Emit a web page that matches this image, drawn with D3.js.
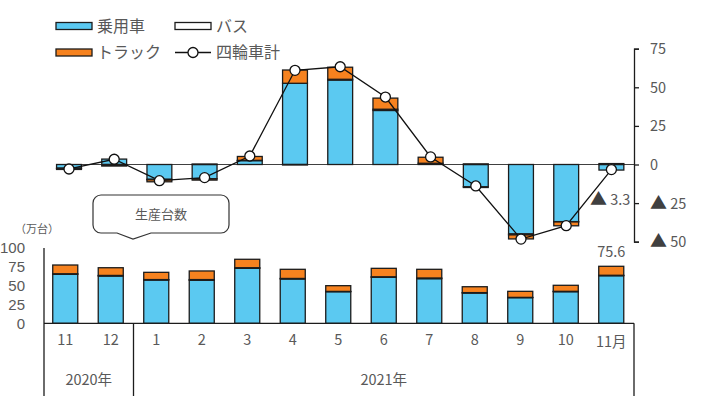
<!DOCTYPE html>
<html>
<head>
<meta charset="utf-8">
<script src="https://cdn.jsdelivr.net/npm/d3@7"></script>
<style>
  body { margin: 0; background: #fff; }
  svg { display: block; }
  text { font-family: "Noto Sans CJK JP", "Noto Sans", sans-serif; fill: #595959; }
</style>
</head>
<body>
<svg id="chart" width="705" height="396"></svg>
<script>
// Months on the category axis (Nov 2020 – Nov 2021)
const months = ["11", "12", "1", "2", "3", "4", "5", "6", "7", "8", "9", "10", "11月"];
const yearGroups = [
  { label: "2020年", first: "11", last: "12" },
  { label: "2021年", first: "1", last: "11月" }
];

// Year-on-year change, contribution by vehicle type (%)
const yoyPassenger = [-2.4, 3.5, -9.6, -9.2, 2.5, 52.6, 54.7, 35.0, 0.8, -14.4, -45.0, -37.0, -3.6];
const yoyBus       = [-0.2, -0.2, -0.3, 0.3, 0.2, -0.3, 0.5, 0.8, 0.0, -0.5, -0.6, -0.2, 0.0];
const yoyTruck     = [-0.6, -0.8, -1.3, -0.9, 2.5, 8.6, 7.8, 7.2, 3.9, 0.4, -2.6, -2.5, 0.6];
// Year-on-year change, all four-wheel vehicles (%)
const yoyTotal     = [-2.9, 3.4, -10.5, -8.5, 5.5, 61.0, 63.3, 43.7, 4.9, -13.9, -48.3, -39.6, -3.3];

// Production volume (10,000 units)
const prodPassenger = [65.0, 62.7, 57.4, 57.0, 72.9, 58.8, 41.9, 61.0, 59.2, 40.2, 34.0, 41.9, 63.1];
const prodBus       = [0.7, 0.8, 0.6, 1.0, 0.8, 0.7, 0.4, 0.7, 0.9, 0.5, 0.4, 0.5, 0.6];
const prodTruck     = [11.6, 10.2, 9.6, 11.4, 11.2, 12.1, 7.6, 11.2, 11.5, 7.8, 8.0, 8.0, 11.9];

const yoyTicks  = [75, 50, 25, 0, -25, -50];
const prodTicks = [100, 75, 50, 25, 0];

const seriesKeys   = ["passenger", "bus", "truck"];
const seriesLabels = ["乗用車", "バス", "トラック"];
const totalLabel   = "四輪車計";
const colors = { passenger: "#5BC9F1", bus: "#FFFFFF", truck: "#F6821F" };
const edge = "#1c1c1c";

const svg = d3.select("#chart");

// ---------- scales ----------
const xTop = d3.scaleBand().domain(months).range([46.4, 634]).paddingInner(0.45).paddingOuter(0.225);
const yTop = d3.scaleLinear().domain([-50, 75]).range([241.7, 48.7]);
const xBot = d3.scaleBand().domain(months).range([42.5, 634]).paddingInner(0.45).paddingOuter(0.225);
const yBot = d3.scaleLinear().domain([0, 100]).range([323.3, 247.9]);

// ---------- upper panel: YoY contributions ----------
const topRows = months.map((m, i) => ({ m, passenger: yoyPassenger[i], bus: yoyBus[i], truck: yoyTruck[i] }));
const topStack = d3.stack().keys(seriesKeys).offset(d3.stackOffsetDiverging)(topRows);

svg.append("line")
  .attr("x1", xTop(months[0])).attr("x2", 634)
  .attr("y1", yTop(0)).attr("y2", yTop(0))
  .attr("stroke", "#404040").attr("stroke-width", 1);

svg.append("g").selectAll("g").data(topStack).join("g")
  .attr("fill", s => colors[s.key])
  .selectAll("rect").data(s => s.filter(d => d[0] !== d[1])).join("rect")
  .attr("x", d => xTop(d.data.m))
  .attr("width", xTop.bandwidth())
  .attr("y", d => yTop(Math.max(d[0], d[1])))
  .attr("height", d => Math.abs(yTop(d[0]) - yTop(d[1])))
  .attr("stroke", edge).attr("stroke-width", 1.3);

const totalLine = d3.line()
  .x((v, i) => xTop(months[i]) + xTop.bandwidth() / 2)
  .y(v => yTop(v));
svg.append("path").datum(yoyTotal)
  .attr("d", totalLine)
  .attr("fill", "none").attr("stroke", "#111").attr("stroke-width", 1.3);
svg.append("g").selectAll("circle").data(yoyTotal).join("circle")
  .attr("cx", (v, i) => xTop(months[i]) + xTop.bandwidth() / 2)
  .attr("cy", v => yTop(v))
  .attr("r", 5)
  .attr("fill", "#fff").attr("stroke", "#111").attr("stroke-width", 1.3);

// Right axis of the upper panel; negatives are written with ▲
const rightAxis = svg.append("g")
  .attr("transform", "translate(634,0)")
  .call(d3.axisRight(yTop).tickValues(yoyTicks).tickSize(5).tickSizeOuter(5).tickPadding(11).tickFormat(""));
rightAxis.selectAll("path, line").attr("stroke", "#1c1c1c").attr("stroke-width", 1.3);
rightAxis.selectAll(".tick text").each(function (v) {
  const t = d3.select(this).attr("font-size", 14.5).attr("dy", "0.35em");
  if (v < 0) {
    t.append("tspan").attr("font-size", 17).attr("fill", "#404040").text("▲");
    t.append("tspan").text(" " + Math.abs(v));
  } else {
    t.text(v);
  }
});

// Value label for the latest month's total change
const lastIdx = months.length - 1;
const lastLbl = svg.append("text")
  .attr("x", xTop(months[lastIdx]) + xTop.bandwidth() / 2 + 19)
  .attr("y", yTop(yoyTotal[lastIdx]) + 30)
  .attr("dy", "0.35em").attr("text-anchor", "end").attr("font-size", 14.5);
lastLbl.append("tspan").attr("font-size", 17).attr("fill", "#404040").text("▲");
lastLbl.append("tspan").text(" " + Math.abs(yoyTotal[lastIdx]).toFixed(1));

// ---------- legend ----------
const legend = svg.append("g").attr("font-size", 16);
const legendItems = [
  { key: "passenger", x: 56, y: 26 },
  { key: "bus", x: 175, y: 26 },
  { key: "truck", x: 56, y: 52.5 }
];
legendItems.forEach(it => {
  legend.append("rect").attr("x", it.x).attr("y", it.y - 3.5).attr("width", 36).attr("height", 7)
    .attr("fill", colors[it.key]).attr("stroke", edge).attr("stroke-width", 1.3);
  legend.append("text").attr("x", it.x + 41).attr("y", it.y).attr("dy", "0.35em")
    .text(seriesLabels[seriesKeys.indexOf(it.key)]);
});
legend.append("line").attr("x1", 175).attr("x2", 211).attr("y1", 52.5).attr("y2", 52.5)
  .attr("stroke", "#111").attr("stroke-width", 1.3);
legend.append("circle").attr("cx", 193).attr("cy", 52.5).attr("r", 5)
  .attr("fill", "#fff").attr("stroke", "#111").attr("stroke-width", 1.3);
legend.append("text").attr("x", 216).attr("y", 52.5).attr("dy", "0.35em").text(totalLabel);

// ---------- callout ----------
const bubble = d3.path();
const bx0 = 93, bx1 = 229, by0 = 195, by1 = 233, r = 8;
bubble.moveTo(bx0 + r, by0);
bubble.lineTo(bx1 - r, by0);
bubble.arcTo(bx1, by0, bx1, by0 + r, r);
bubble.lineTo(bx1, by1 - r);
bubble.arcTo(bx1, by1, bx1 - r, by1, r);
bubble.lineTo(151, by1);
bubble.lineTo(133, 239);
bubble.lineTo(117, by1);
bubble.lineTo(bx0 + r, by1);
bubble.arcTo(bx0, by1, bx0, by1 - r, r);
bubble.lineTo(bx0, by0 + r);
bubble.arcTo(bx0, by0, bx0 + r, by0, r);
bubble.closePath();
svg.append("path").attr("d", bubble.toString())
  .attr("fill", "#fff").attr("stroke", "#333").attr("stroke-width", 1.2);
svg.append("text").attr("x", 161).attr("y", 214).attr("dy", "0.35em")
  .attr("text-anchor", "middle").attr("font-size", 13).text("生産台数");

// ---------- lower panel: production volume ----------
const botRows = months.map((m, i) => ({ m, passenger: prodPassenger[i], bus: prodBus[i], truck: prodTruck[i] }));
const botStack = d3.stack().keys(seriesKeys)(botRows);

svg.append("g").selectAll("g").data(botStack).join("g")
  .attr("fill", s => colors[s.key])
  .selectAll("rect").data(s => s).join("rect")
  .attr("x", d => xBot(d.data.m))
  .attr("width", xBot.bandwidth())
  .attr("y", d => yBot(d[1]))
  .attr("height", d => yBot(d[0]) - yBot(d[1]))
  .attr("stroke", edge).attr("stroke-width", 1.3);

const leftAxis = svg.append("g")
  .attr("transform", "translate(44,0)")
  .call(d3.axisLeft(yBot).tickValues(prodTicks).tickSize(0).tickPadding(19));
leftAxis.select(".domain").remove();
leftAxis.selectAll("text")
  .style("font-family", "'Liberation Sans', Arimo, sans-serif")
  .attr("font-size", 15).attr("fill", "#595959");

svg.append("text").attr("x", 15).attr("y", 229).attr("dy", "0.35em")
  .attr("font-size", 11).text("（万台）");

// Latest month total
const lastTotal = prodPassenger[lastIdx] + prodBus[lastIdx] + prodTruck[lastIdx];
svg.append("text")
  .attr("x", xBot(months[lastIdx]) + xBot.bandwidth() / 2)
  .attr("y", yBot(lastTotal) - 9)
  .attr("text-anchor", "middle").attr("font-size", 14.5)
  .text(lastTotal.toFixed(1));

// Category axis frame
const frame = svg.append("g").attr("stroke", "#1c1c1c").attr("stroke-width", 1.3);
frame.append("line").attr("x1", 44).attr("x2", 634).attr("y1", yBot(0)).attr("y2", yBot(0));
frame.append("line").attr("x1", 44).attr("x2", 44).attr("y1", yBot(100)).attr("y2", 396);
const gap = (xBot.step() - xBot.bandwidth()) / 2;
yearGroups.forEach(g => {
  frame.append("line")
    .attr("x1", xBot(g.last) + xBot.bandwidth() + gap).attr("x2", xBot(g.last) + xBot.bandwidth() + gap)
    .attr("y1", yBot(0)).attr("y2", 396);
});

// Month labels
svg.append("g").selectAll("text").data(months).join("text")
  .attr("x", m => xBot(m) + xBot.bandwidth() / 2)
  .attr("y", m => m.endsWith("月") ? 342 : 340)
  .attr("dy", "0.35em").attr("text-anchor", "middle").attr("font-size", 14.5)
  .text(m => m);

// Year labels
svg.append("g").selectAll("text").data(yearGroups).join("text")
  .attr("x", g => {
    const a = Math.max(44, xBot(g.first) - gap);
    const b = xBot(g.last) + xBot.bandwidth() + gap;
    return (a + b) / 2;
  })
  .attr("y", 380).attr("dy", "0.35em").attr("text-anchor", "middle").attr("font-size", 14.5)
  .text(g => g.label);
</script>
</body>
</html>
